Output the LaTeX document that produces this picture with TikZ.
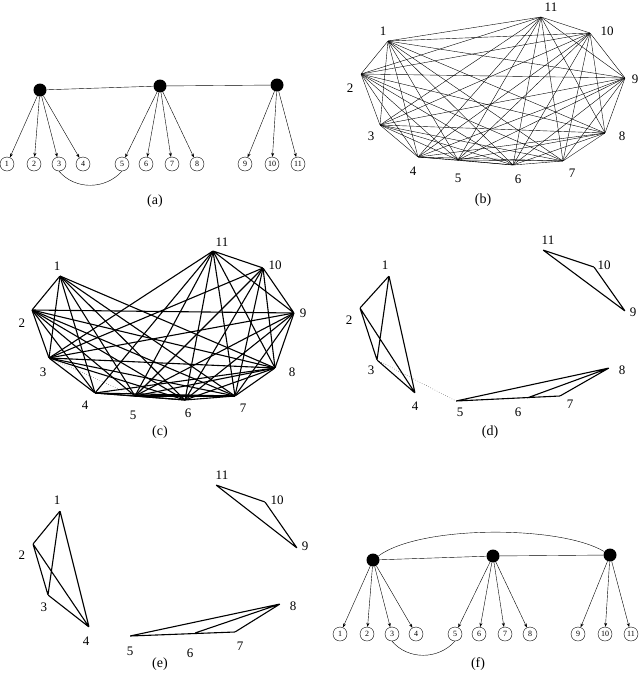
\documentclass[tikz,border=0pt]{standalone}
\usepackage{fontspec}
\setmainfont{Liberation Serif}
\usetikzlibrary{arrows.meta}
\begin{document}
\begin{tikzpicture}[x=1pt,y=-1pt,
  hub/.style={circle,fill=black,inner sep=0pt,minimum size=13pt},
  leaf/.style={circle,draw,inner sep=0pt,minimum size=14pt,font=\fontsize{8}{8}\selectfont},
  tarr/.style={-{Stealth[length=4pt,width=3pt]},thin},
  lbl/.style={font=\fontsize{13}{14}\selectfont,inner sep=0pt},
  captxt/.style={font=\fontsize{14}{15}\selectfont,inner sep=0pt},
  v/.style={inner sep=0pt,minimum size=0pt},
  thinE/.style={line width=0.4pt},
  thickE/.style={line width=1.1pt}]
\useasboundingbox (0,0) rectangle (640,681);
% ---------- (a) and (f) ----------
\foreach \p/\ox/\oy in {a/0/0,f/333/470}{
  \begin{scope}[shift={(\ox,\oy)}]
  \node[hub] (\p h1) at (40,90) {};
  \node[hub] (\p h2) at (160,86) {};
  \node[hub] (\p h3) at (277,85) {};
  \foreach \i/\x in {1/7,2/34,3/59,4/83,5/122,6/146,7/172,8/197,9/245,10/272,11/298}
    \node[leaf] (\p l\i) at (\x,164) {\i};
  \draw (\p h1) -- (\p h2) -- (\p h3);
  \foreach \i in {1,2,3,4} \draw[tarr] (\p h1) -- (\p l\i);
  \foreach \i in {5,6,7,8} \draw[tarr] (\p h2) -- (\p l\i);
  \foreach \i in {9,10,11} \draw[tarr] (\p h3) -- (\p l\i);
  \draw (\p l3.south) .. controls (75,190) and (105,190) .. (\p l5.south);
  \end{scope}}
\draw (fh1) .. controls (420,525) and (560,525) .. (fh3);
\node[captxt] (ca) at (155,201) {(a)};
\node[captxt] (cf) at (478,664) {(f)};
% ---------- (b) ----------
\foreach \i/\x/\y/\lx/\ly in {1/388/41/383/31,2/361/74/350/88,3/380/125/371/136,4/418/157/413/171,5/458/160/458/178,6/513/165/518/179,7/563/161/572/173,8/605/133/622/136,9/625/78/635/79,10/590/33/607/31,11/541/17/551/7}{
  \node[v] (b\i) at (\x,\y) {};
  \node[lbl] (bl\i) at (\lx,\ly) {\i};}
\foreach \i in {1,...,11}{\foreach \j in {1,...,11}{\ifnum\i<\j \draw[thinE] (b\i) -- (b\j);\fi}}
\node[captxt] (cb) at (483,200) {(b)};
% ---------- (c) ----------
\foreach \i/\x/\y/\lx/\ly in {1/60/276/57/266,2/32/310/22/323,3/49/358/43/372,4/95/393/85/405,5/135/396/133/415,6/185/400/188/413,7/235/396/243/408,8/275/368/292/372,9/294/313/303/313,10/263/268/275/265,11/213/251/222/242}{
  \node[v] (c\i) at (\x,\y) {};
  \node[lbl] (cl\i) at (\lx,\ly) {\i};}
\foreach \i in {1,...,8}{\foreach \j in {1,...,8}{\ifnum\i<\j \ifnum\i\j=35 \else \draw[thickE] (c\i) -- (c\j);\fi\fi}}
\draw[dotted] (c3) -- (c5);
\foreach \i in {9,10,11}{\foreach \j in {3,5,6,7,8}{\draw[thickE] (c\i) -- (c\j);}}
\draw[thickE] (c9) -- (c10) -- (c11) -- (c9) (c2) -- (c9) (c4) -- (c11);
\node[captxt] (cc) at (160,432) {(c)};
% ---------- (d) ----------
\foreach \i/\x/\y/\lx/\ly in {1/389/276/385/265,2/360/308/349/320,3/377/360/371/370,4/415/393/415/406,5/456/401/460/412,6/527/398/518/412,7/560/396/570/404,8/609/368/622/370,9/625/311/633/312,10/594/267/604/265,11/543/250/548/240}{
  \node[v] (d\i) at (\x,\y) {};
  \node[lbl] (dl\i) at (\lx,\ly) {\i};}
\draw[thickE] (d1)--(d2)--(d3)--(d1)--(d4)--(d2) (d3)--(d4);
\draw[dotted] (d3)--(d5);
\draw[thickE] (d5)--(d8)--(d6) (d5)--(d7) (d8)--(d7);
\draw[thickE] (d11)--(d10)--(d9)--(d11);
\node[captxt] (cd) at (490,432) {(d)};
% ---------- (e) ----------
\foreach \i/\x/\y/\lx/\ly in {1/60/511/57/500,2/33/544/22/555,3/48/595/44/607,4/89/627/86/641,5/130/636/130/651,6/195/633/190/653,7/235/632/240/646,8/280/604/293/606,9/297/548/305/546,10/265/502/277/500,11/216/485/222/475}{
  \node[v] (e\i) at (\x,\y) {};
  \node[lbl] (el\i) at (\lx,\ly) {\i};}
\draw[thickE] (e1)--(e2)--(e3)--(e1)--(e4)--(e2) (e3)--(e4);
\draw[thickE] (e5)--(e8)--(e6) (e5)--(e7) (e8)--(e7);
\draw[thickE] (e11)--(e10)--(e9)--(e11);
\node[captxt] (ce) at (160,664) {(e)};
\end{tikzpicture}
\end{document}
